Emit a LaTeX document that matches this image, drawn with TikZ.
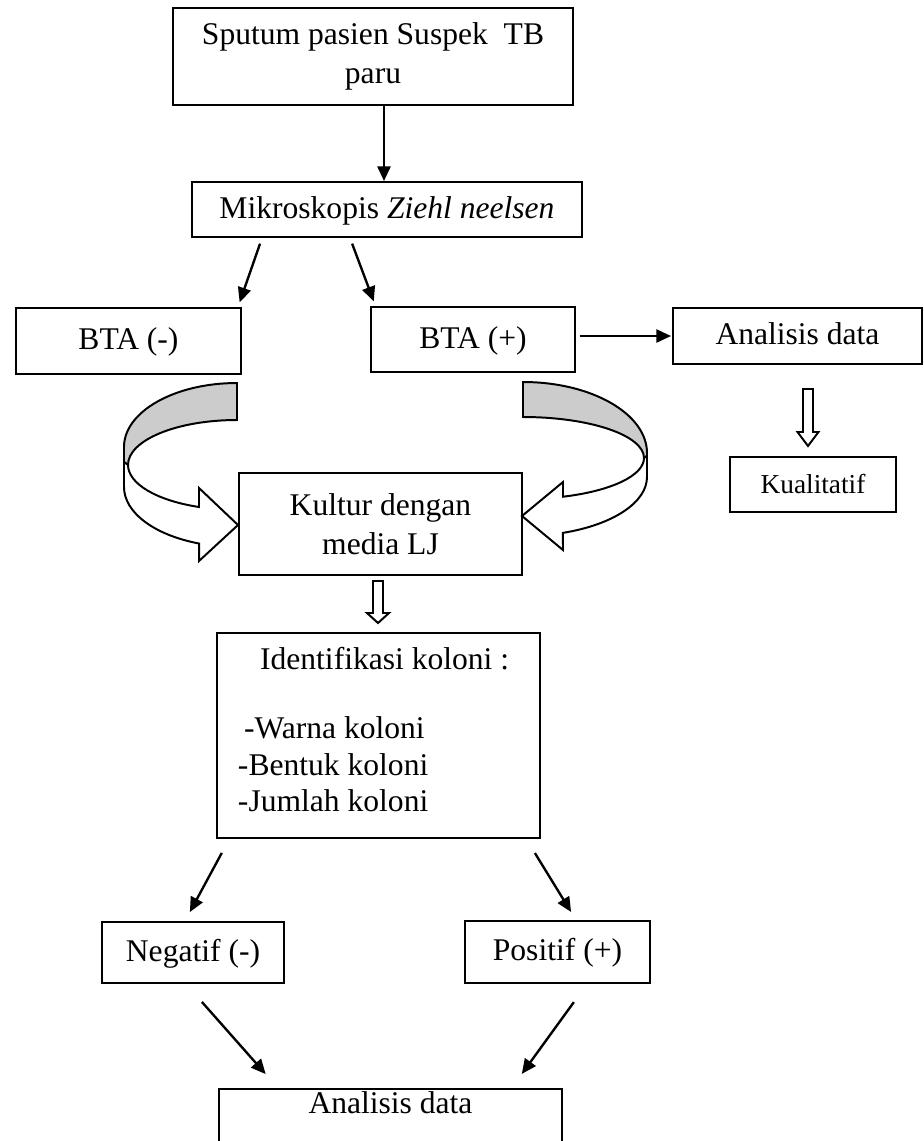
\documentclass[tikz,border=0pt]{standalone}
\usepackage{fontspec}
\setmainfont{Liberation Serif}
\usetikzlibrary{arrows.meta}
\newlength\unitpx
\setlength\unitpx{0.38pt}
\tikzset{every picture/.style={line width=0.75pt}}

\begin{document}
\begin{tikzpicture}[x=0.38pt, y=-0.38pt, >={Triangle[length=5.6pt,width=5pt]},
    every node/.style={font=\fontsize{12}{15}\selectfont},
    kotak/.style={draw, line width=0.75pt, align=center, inner sep=0pt},
    satubaris/.style={text height=0.75em, text depth=0.09em},
    panah/.style={->, line width=0.9pt},
    panahputih/.style={draw, line width=0.75pt, fill=white, line join=miter},
    pita/.style={draw, line width=0.75pt, fill=black!20}]
        \useasboundingbox (0,0) rectangle (924,1141);
        % kotak-kotak
        \node[kotak, minimum width=400\unitpx, minimum height=97\unitpx] (sputum) at (373,56.5) {Sputum pasien Suspek\ \ TB\\paru};
        \node[kotak, satubaris, minimum width=390\unitpx, minimum height=55\unitpx] (mikro) at (387,209.5) {Mikroskopis \textit{Ziehl neelsen}};
        \node[kotak, satubaris, minimum width=225\unitpx, minimum height=66\unitpx] (btaneg) at (128.5,341) {BTA (-)};
        \node[kotak, satubaris, minimum width=204\unitpx, minimum height=65\unitpx] (btapos) at (473,339.5) {BTA (+)};
        \node[kotak, satubaris, minimum width=249\unitpx, minimum height=56\unitpx] (analisisa) at (797.5,336) {Analisis data};
        \node[kotak, satubaris, minimum width=166\unitpx, minimum height=55\unitpx, font=\fontsize{10.4}{12.5}\selectfont] (kualitatif) at (813,484.5) {Kualitatif};
        \node[kotak, minimum width=283\unitpx, minimum height=102\unitpx] (kultur) at (380.5,524) {Kultur dengan\\media LJ};
        \node[kotak, minimum width=323\unitpx, minimum height=205\unitpx] (identifikasi) at (378.5,735.5) {};
        \node[anchor=north west, align=left, inner sep=0pt, font=\fontsize{12}{13.9}\selectfont] (daftar) at (237,646.5)
            {\hspace*{8.4pt}Identifikasi koloni :\\[12.3pt]\hspace*{2.3pt}-Warna koloni\\-Bentuk koloni\\-Jumlah koloni};
        \node[kotak, satubaris, minimum width=182\unitpx, minimum height=61\unitpx] (negatif) at (193,952.5) {Negatif (-)};
        \node[kotak, satubaris, minimum width=185\unitpx, minimum height=62\unitpx] (positif) at (557.5,952) {Positif (+)};
        \node[kotak, anchor=north, minimum width=343\unitpx, inner ysep=1pt, text depth=40pt] (analisisb) at (390.5,1088) {Analisis data};
        % panah lurus
        \draw[panah] ([xshift=11\unitpx]sputum.south) -- ([xshift=-3\unitpx]mikro.north);
        \draw[panah, shorten <=6\unitpx, shorten >=5\unitpx] ([xshift=71\unitpx]mikro.south west) -- ([xshift=-4\unitpx]btaneg.north east);
        \draw[panah, shorten <=6\unitpx, shorten >=5\unitpx] ([xshift=159\unitpx]mikro.south west) -- ([xshift=5.5\unitpx]btapos.north west);
        \draw[panah, shorten <=4\unitpx, shorten >=1\unitpx] (btapos.east |- analisisa.west) -- (analisisa.west);
        \draw[panah, shorten <=15.8\unitpx, shorten >=10.2\unitpx] ([xshift=13.3\unitpx]identifikasi.south west) -- ([xshift=84\unitpx]negatif.north west);
        \draw[panah, shorten <=16.5\unitpx, shorten >=9.4\unitpx] ([xshift=-14.7\unitpx]identifikasi.south east) -- ([xshift=112\unitpx]positif.north west);
        \draw[panah, shorten <=24\unitpx, shorten >=18.6\unitpx] ([xshift=85\unitpx]negatif.south west) -- ([xshift=60\unitpx]analisisb.north west);
        \draw[panah, shorten <=22.4\unitpx, shorten >=17.4\unitpx] ([xshift=123\unitpx]positif.south west) -- ([xshift=-51.4\unitpx]analisisb.north east);
        % panah putih ke bawah
        \draw[panahputih] (803,389) -- (813,389) -- (813,432) -- (818.5,432) -- (808,446) -- (797.5,432) -- (803,432) -- cycle;
        \draw[panahputih] (373,581) -- (383,581) -- (383,613) -- (389,613) -- (378,623) -- (367,613) -- (373,613) -- cycle;
        % panah lengkung kiri: BTA (-) ke kultur
        \filldraw[pita] (237,383) arc[start angle=270, end angle=180, x radius=113, y radius=64] -- (124,462) -- (128,465)
            arc[start angle=180, end angle=270, x radius=109, y radius=45] -- cycle;
        \draw[panahputih] (124,462) -- (124,487) arc[start angle=180, end angle=109.6, x radius=113, y radius=60]
            -- (199,561) -- (238,525) -- (199,488) -- (199,507)
            arc[start angle=110.4, end angle=180, x radius=109, y radius=45] -- cycle;
        % panah lengkung kanan: BTA (+) ke kultur
        \filldraw[pita] (523,382) arc[start angle=270, end angle=360, x radius=124, y radius=71] -- (647,456) -- (644,458)
            arc[start angle=0, end angle=-90, x radius=121, y radius=41] -- cycle;
        \draw[panahputih] (647,456) -- (647,477) arc[start angle=0, end angle=71.2, x radius=124, y radius=59]
            -- (563,550) -- (522,516) -- (563,482) -- (563,496.7)
            arc[start angle=70.7, end angle=0, x radius=121, y radius=41] -- cycle;
    \end{tikzpicture}
\end{document}
